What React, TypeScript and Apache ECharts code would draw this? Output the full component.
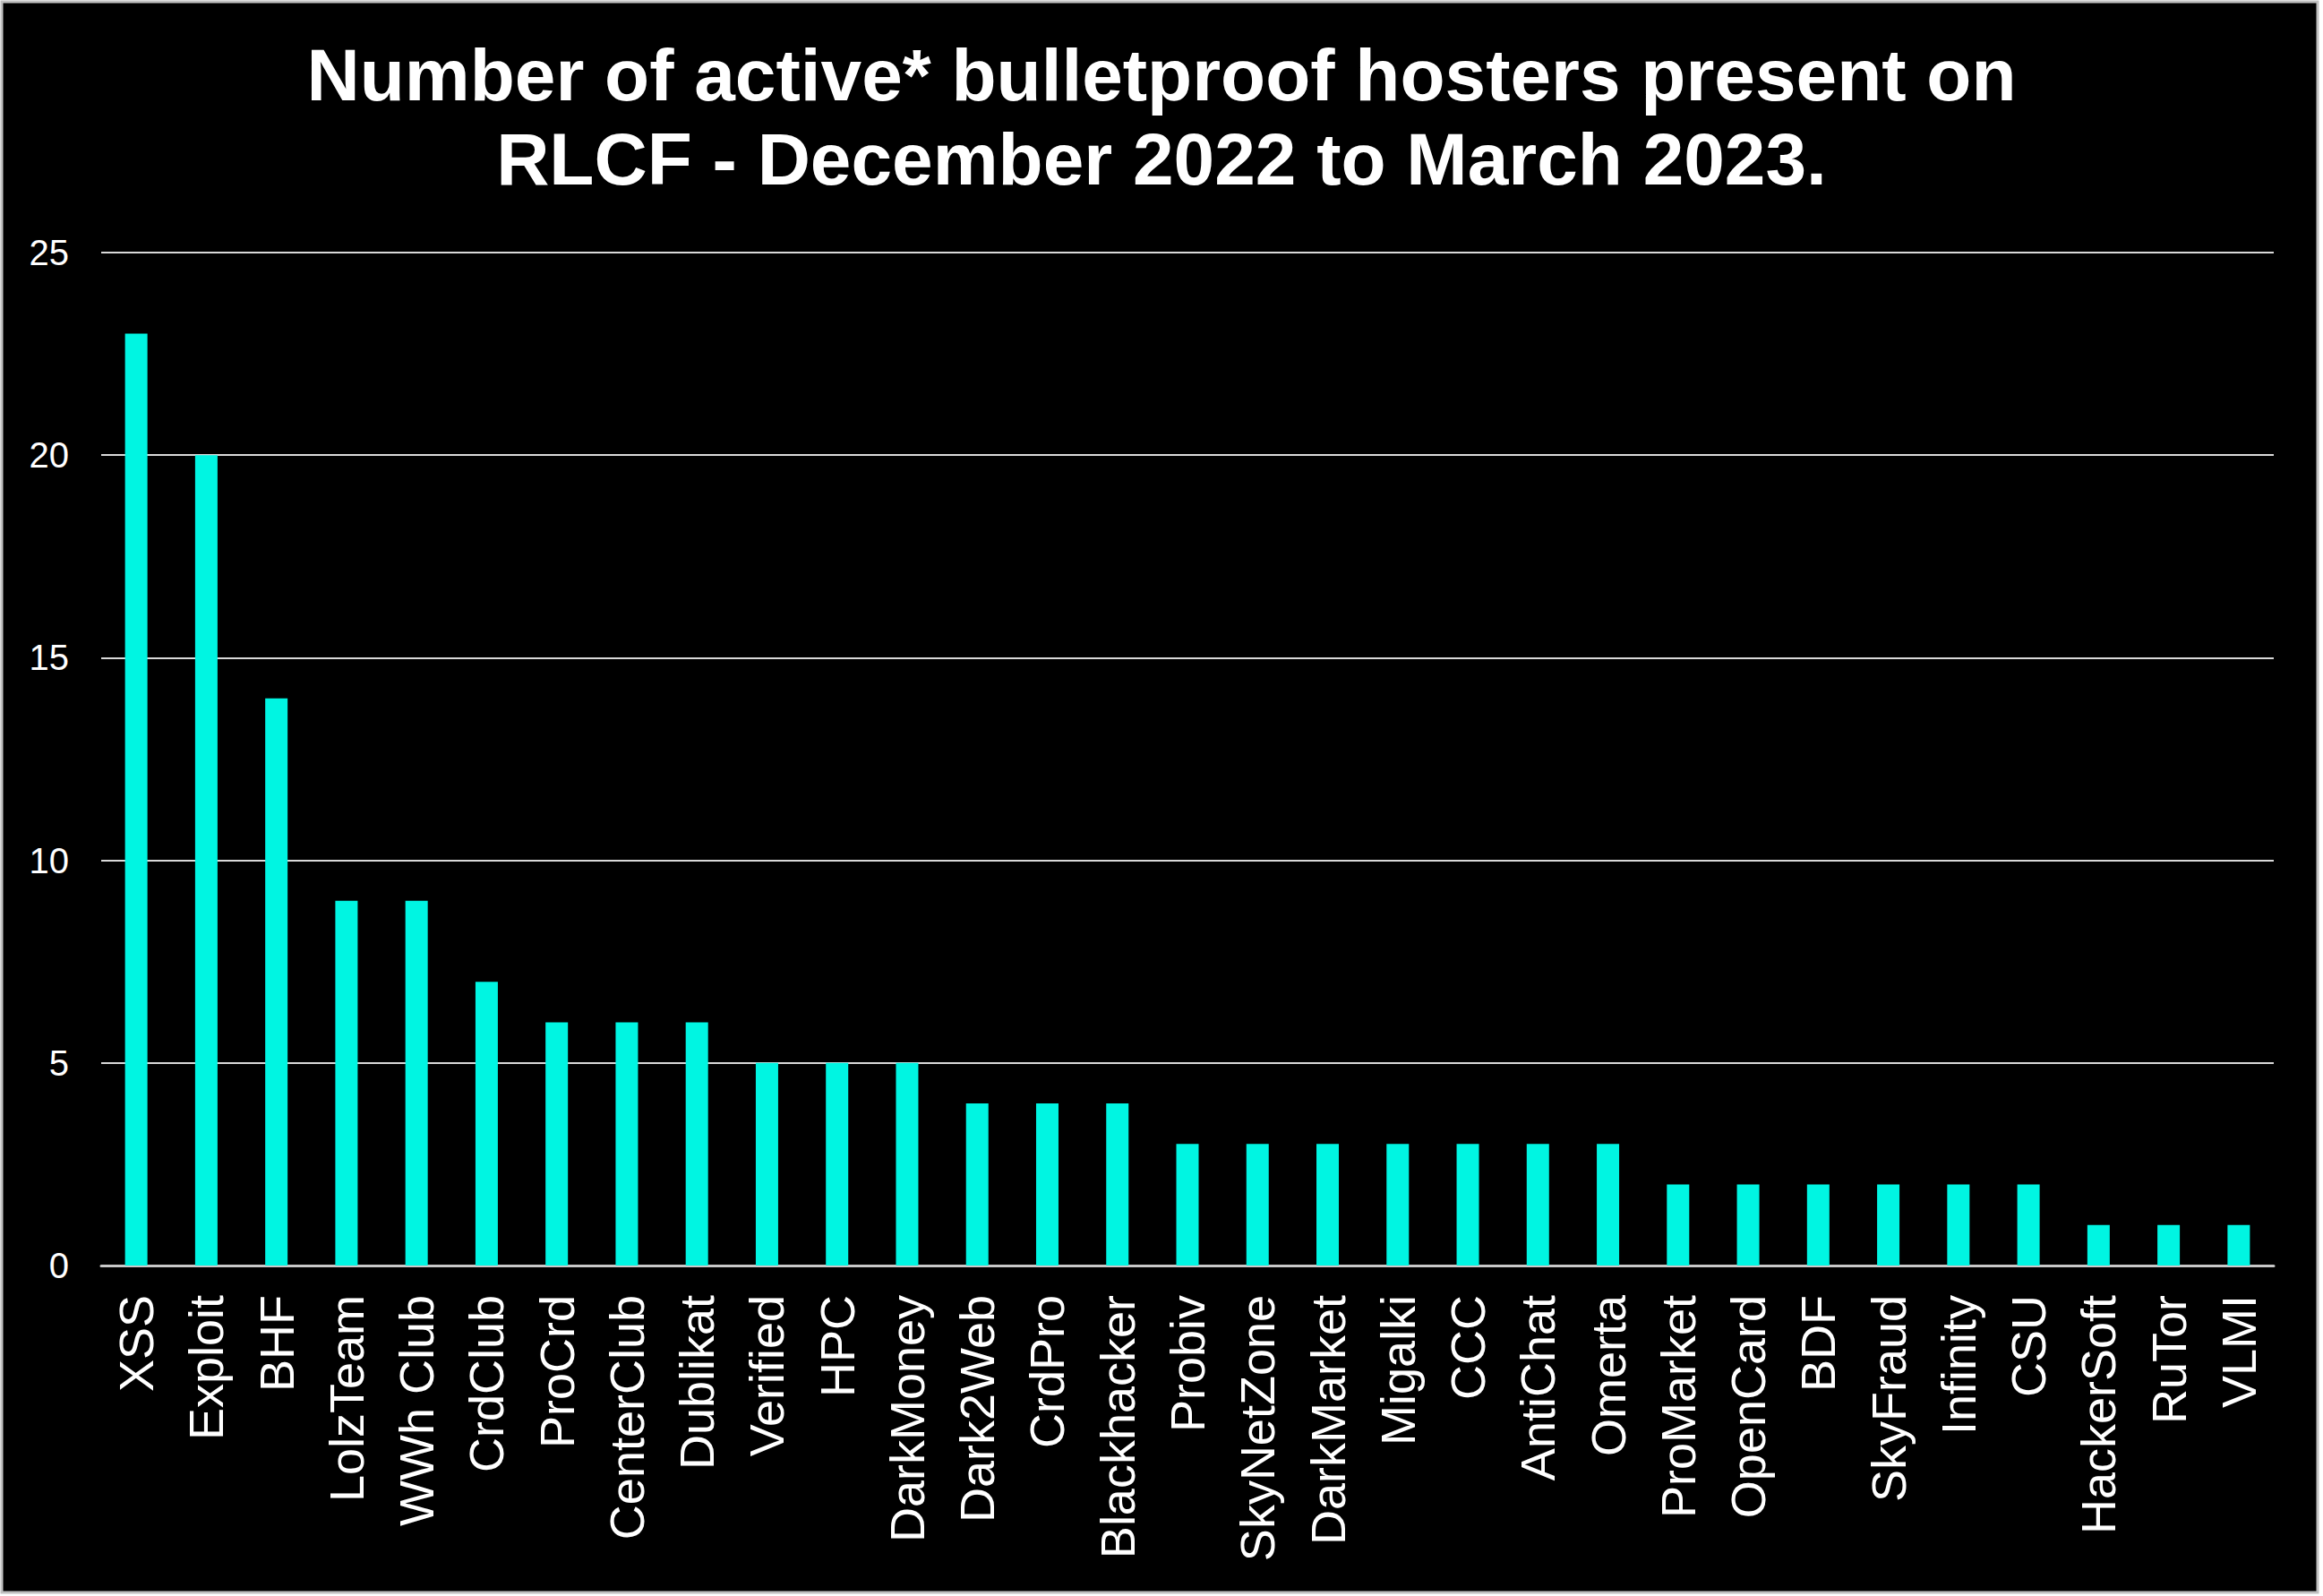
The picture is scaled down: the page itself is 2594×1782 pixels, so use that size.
import React, { useEffect, useRef } from "react";
import * as echarts from "echarts";

const categories = [
  "XSS", "Exploit", "BHF", "LolzTeam", "WWh Club", "CrdClub", "ProCrd", "CenterClub",
  "Dublikat", "Verified", "HPC", "DarkMoney", "Dark2Web", "CrdPro", "Blackhacker",
  "Probiv", "SkyNetZone", "DarkMarket", "Migalki", "CCC", "AntiChat", "Omerta",
  "ProMarket", "OpenCard", "BDF", "SkyFraud", "Infinity", "CSU", "HackerSoft", "RuTor", "VLMI",
];
const values = [
  23, 20, 14, 9, 9, 7, 6, 6,
  6, 5, 5, 5, 4, 4, 4,
  3, 3, 3, 3, 3, 3, 3,
  2, 2, 2, 2, 2, 2, 1, 1, 1,
];
const yTicks = { min: 0, max: 25, interval: 5 };
const titleText = "Number of active* bulletproof hosters present on\nRLCF - December 2022 to March 2023.";

const FONT = "'Liberation Sans', Arial, Helvetica, sans-serif";

export default function App() {
  const ref = useRef<HTMLDivElement>(null);
  useEffect(() => {
    document.body.style.margin = "0";
    const chart = echarts.init(ref.current!, null, { renderer: "svg" });
    chart.setOption({
      animation: false,
      backgroundColor: "#ffffff",
      graphic: [
        {
          type: "rect",
          z: -10,
          silent: true,
          shape: { x: 2, y: 2, width: 2586, height: 1776 },
          style: { fill: "#000000", stroke: "#c0c0c0", lineWidth: 3 },
        },
        {
          type: "text",
          silent: true,
          x: 1297,
          y: 36,
          style: {
            text: titleText,
            fill: "#ffffff",
            font: `bold 82px ${FONT}`,
            lineHeight: 94,
            align: "center",
            verticalAlign: "top",
          },
        },
      ],
      grid: { left: 113, right: 55, top: 282, bottom: 369, containLabel: false },
      xAxis: {
        type: "category",
        data: categories,
        axisLine: { show: true, lineStyle: { color: "#c8c8c8", width: 3 } },
        axisTick: { show: false },
        axisLabel: {
          color: "#ffffff",
          fontFamily: FONT,
          fontSize: 54,
          rotate: 90,
          margin: 33,
          interval: 0,
        },
      },
      yAxis: {
        type: "value",
        min: yTicks.min,
        max: yTicks.max,
        interval: yTicks.interval,
        axisLine: { show: false },
        axisTick: { show: false },
        splitLine: { show: true, lineStyle: { color: "#d9d9d9", width: 2 } },
        axisLabel: {
          color: "#ffffff",
          fontFamily: FONT,
          fontSize: 40,
          margin: 36,
        },
      },
      series: [
        {
          type: "bar",
          data: values,
          barWidth: 25,
          itemStyle: { color: "#00f5e2" },
        },
      ],
    });
    return () => chart.dispose();
  }, []);
  return <div ref={ref} style={{ width: 2594, height: 1782 }} />;
}
